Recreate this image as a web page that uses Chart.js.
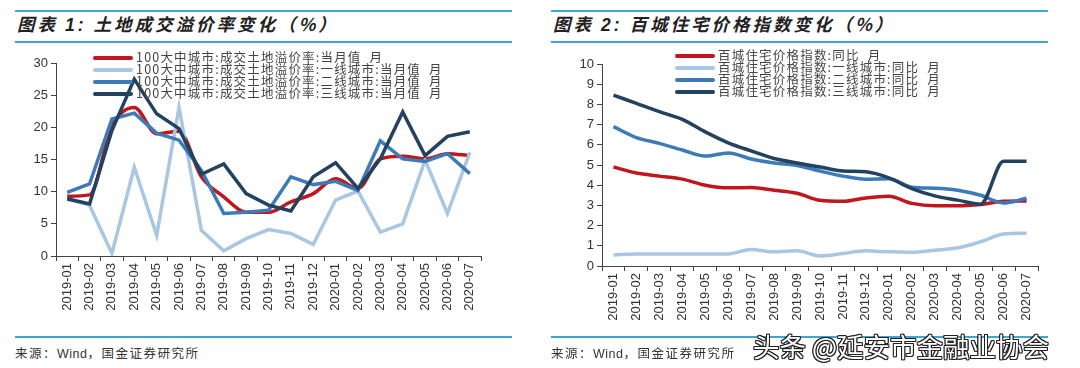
<!DOCTYPE html>
<html lang="zh">
  <head>
    <meta charset="UTF-8" />
    <title>土地成交溢价率与百城住宅价格指数</title>
    <script src="https://cdn.jsdelivr.net/npm/chart.js"></script>
    <style>
      body { margin: 0; width: 1080px; height: 368px; background: #fff; position: relative; overflow: hidden; font-family: "Noto Sans CJK SC", sans-serif; }
      .rule { position: absolute; height: 2px; background: #3ea6d3; }
      .title { position: absolute; top: 11px; font-size: 17.5px; font-weight: bold; font-style: italic; color: #222; letter-spacing: 3px; }
      .title b { font-family: "Liberation Sans", Arial, sans-serif; }
      .box { position: absolute; top: 44px; }
      .legend { position: absolute; font-size: 12.5px; color: #444; line-height: 12px; letter-spacing: 1.2px; }
      .legend div { height: 12px; white-space: nowrap; }
      .legend i { display: inline-block; width: 40px; height: 4px; border-radius: 2px; vertical-align: middle; margin-right: 3px; position: relative; top: -1px; }
      .source { position: absolute; top: 343px; font-size: 12.5px; color: #333; letter-spacing: 1.5px; }
      .source span { font-family: "Liberation Sans", Arial, sans-serif; letter-spacing: 0.5px; }
      .mark { position: absolute; left: 753px; top: 326px; font-size: 26.5px; color: #fff;
        text-shadow: 1px 0 0 #222, -1px 0 0 #222, 0 1px 0 #222, 0 -1px 0 #222, 1px 1px 0 #222, -1px -1px 0 #222, 1px -1px 0 #222, -1px 1px 0 #222; }
    </style>
  </head>
  <body>
    <div class="rule" style="left:15px;width:497px;top:10px"></div>
    <div class="rule" style="left:15px;width:497px;top:41px"></div>
    <div class="title" style="left:17px">图表 <b>1:</b> 土地成交溢价率变化（%）</div>
    <div class="rule" style="left:551px;width:497px;top:10px"></div>
    <div class="rule" style="left:551px;width:497px;top:41px"></div>
    <div class="title" style="left:553px">图表 <b>2:</b> 百城住宅价格指数变化（%）</div>

    <div class="box" style="left:0px"><canvas id="premiumChart" width="500" height="290"></canvas></div>
    <div class="box" style="left:540px"><canvas id="priceChart" width="520" height="290"></canvas></div>
    <div class="legend" id="premiumLegend" style="left:93px;top:51px"></div>
    <div class="legend" id="priceLegend" style="left:675px;top:49px"></div>

    <div class="rule" style="left:15px;width:497px;top:336px"></div>
    <div class="rule" style="left:551px;width:497px;top:336px"></div>
    <div class="source" style="left:15px">来源：<span>Wind</span>，国金证券研究所</div>
    <div class="source" style="left:551px">来源：<span>Wind</span>，国金证券研究所</div>
    <div class="mark">头条 @延安市金融业协会</div>

    <script>
        const months = ['2019-01', '2019-02', '2019-03', '2019-04', '2019-05', '2019-06', '2019-07',
            '2019-08', '2019-09', '2019-10', '2019-11', '2019-12', '2020-01', '2020-02',
            '2020-03', '2020-04', '2020-05', '2020-06', '2020-07'];

        // 图表1: 土地成交溢价率 (%)
        const premiumTotal = [9.3, 9.5, 20.2, 23.1, 19.0, 19.4, 12.3, 9.2, 6.8, 6.8, 8.4, 9.7, 12.0, 10.5, 15.1, 15.5, 15.1, 15.9, 15.6];
        const premiumTier1 = [8.8, 7.9, 0.4, 13.8, 3.2, 23.1, 4.0, 0.8, 2.7, 4.1, 3.5, 1.8, 8.7, 10.1, 3.7, 5.0, 14.9, 6.6, 16.1];
        const premiumTier2 = [9.9, 11.2, 21.3, 22.2, 19.1, 18.0, 13.3, 6.6, 6.8, 7.1, 12.3, 11.1, 11.6, 10.2, 17.9, 15.1, 14.7, 15.9, 12.8];
        const premiumTier3 = [8.9, 8.1, 19.5, 27.5, 22.1, 19.8, 12.7, 14.3, 9.7, 7.9, 7.0, 12.3, 14.5, 10.5, 15.1, 22.4, 15.6, 18.6, 19.3];
        const premiumLabels = ['100大中城市:成交土地溢价率:当月值 月', '100大中城市:成交土地溢价率:一线城市:当月值 月',
            '100大中城市:成交土地溢价率:二线城市:当月值 月', '100大中城市:成交土地溢价率:三线城市:当月值 月'];

        // 图表2: 百城住宅价格指数同比 (%)
        const priceTotal = [4.9, 4.6, 4.45, 4.3, 4.0, 3.87, 3.88, 3.75, 3.6, 3.25, 3.2, 3.37, 3.45, 3.1, 2.98, 2.98, 3.05, 3.2, 3.22];
        const priceTier1 = [0.55, 0.6, 0.6, 0.6, 0.6, 0.6, 0.82, 0.7, 0.75, 0.5, 0.62, 0.75, 0.7, 0.68, 0.78, 0.9, 1.2, 1.58, 1.62];
        const priceTier2 = [6.9, 6.36, 6.07, 5.74, 5.44, 5.6, 5.3, 5.1, 4.98, 4.7, 4.45, 4.3, 4.32, 3.9, 3.85, 3.75, 3.5, 3.12, 3.35];
        const priceTier3 = [8.46, 8.05, 7.64, 7.26, 6.64, 6.1, 5.7, 5.32, 5.1, 4.9, 4.7, 4.66, 4.36, 3.83, 3.47, 3.26, 3.06, 5.19, 5.19];
        const priceLabels = ['百城住宅价格指数:同比 月', '百城住宅价格指数:一线城市:同比 月',
            '百城住宅价格指数:二线城市:同比 月', '百城住宅价格指数:三线城市:同比 月'];

        const colors = ['#c0161e', '#a9c6e3', '#3d7ab8', '#22425f'];

        function makeDatasets(series, labels, smooth) {
            return series.map((data, i) => ({
                label: labels[i],
                data: data,
                borderColor: colors[i],
                borderWidth: 3.5,
                pointRadius: 0,
                tension: smooth[i] ? 0.4 : 0,
                cubicInterpolationMode: smooth[i] ? 'monotone' : 'default',
                order: 4 - i
            }));
        }

        function axisOptions(yMax, yStep, yWidth, xHeight) {
            const tickFont = { family: 'Liberation Sans, Arial, sans-serif', size: 13 };
            return {
                x: {
                    offset: true,
                    grid: { drawOnChartArea: false, tickLength: 5, color: '#444', offset: true },
                    border: { color: '#444' },
                    ticks: { color: '#333', font: tickFont, minRotation: 90, maxRotation: 90, padding: 2, autoSkip: false },
                    afterFit: s => { s.height = xHeight; }
                },
                y: {
                    min: 0,
                    max: yMax,
                    grid: { drawOnChartArea: false, tickLength: 5, color: '#444' },
                    border: { color: '#444' },
                    ticks: { stepSize: yStep, color: '#333', font: tickFont, padding: 3 },
                    afterFit: s => { s.width = yWidth; }
                }
            };
        }

        function buildLegend(id, labels) {
            const el = document.getElementById(id);
            el.innerHTML = labels.map((l, i) => `<div><i style="background:${colors[i]}"></i>${l.replace(' ', '&nbsp;&nbsp;')}</div>`).join('');
        }

        new Chart(document.getElementById('premiumChart'), {
            type: 'line',
            data: {
                labels: months,
                datasets: makeDatasets([premiumTotal, premiumTier1, premiumTier2, premiumTier3], premiumLabels, [true, false, false, false])
            },
            options: {
                responsive: false,
                animation: false,
                layout: { padding: { top: 19, right: 19, left: 0, bottom: 0 } },
                plugins: { legend: { display: false }, tooltip: { enabled: false } },
                scales: axisOptions(30, 5, 56, 78)
            }
        });

        new Chart(document.getElementById('priceChart'), {
            type: 'line',
            data: {
                labels: months,
                datasets: makeDatasets([priceTotal, priceTier1, priceTier2, priceTier3], priceLabels, [true, true, true, true])
            },
            options: {
                responsive: false,
                animation: false,
                layout: { padding: { top: 20, right: 22, left: 0, bottom: 0 } },
                plugins: { legend: { display: false }, tooltip: { enabled: false } },
                scales: axisOptions(10, 1, 62, 68)
            }
        });

        buildLegend('premiumLegend', premiumLabels);
        buildLegend('priceLegend', priceLabels);
    </script>
  </body>
</html>
